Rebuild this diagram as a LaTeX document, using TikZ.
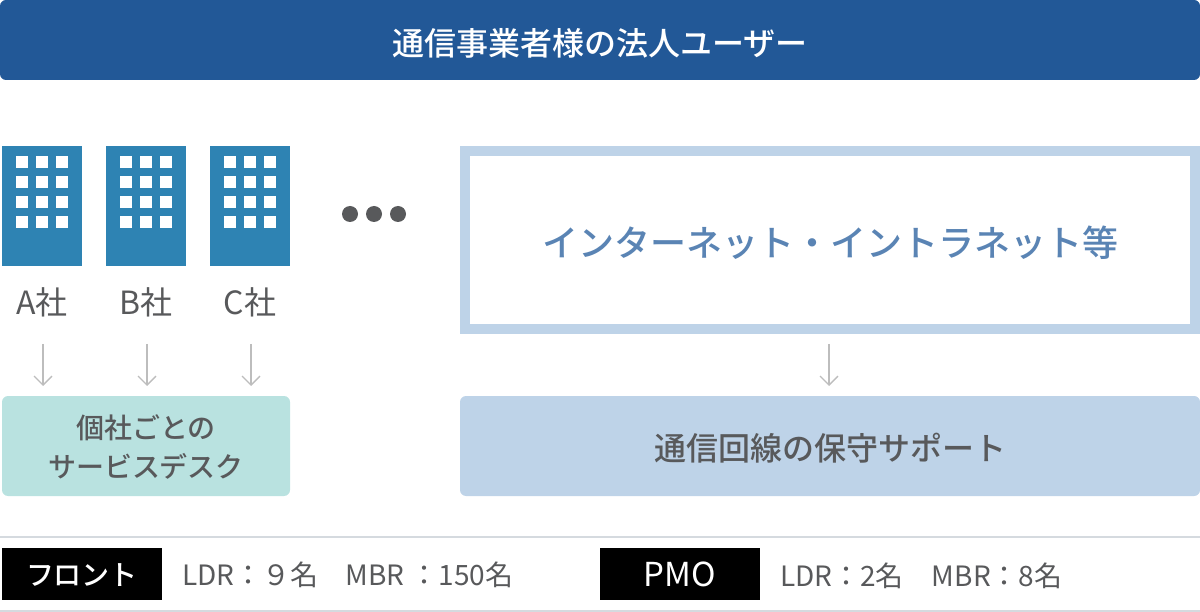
\documentclass[tikz,border=0pt]{standalone}
\usepackage{fontspec}
\setmainfont{Noto Sans CJK JP}
\newfontfamily\medfont{Noto Sans CJK JP Medium}
\usetikzlibrary{arrows.meta}
\definecolor{barblue}{HTML}{225897}
\definecolor{towerblue}{HTML}{2E83B3}
\definecolor{paleblue}{HTML}{BED3E8}
\definecolor{paleteal}{HTML}{B9E2E0}
\definecolor{inkgray}{HTML}{58595B}
\definecolor{netblue}{HTML}{5A84B4}
\definecolor{rulegray}{HTML}{D5DADF}
\definecolor{arrowgray}{HTML}{BDBDBD}
\newcommand{\lowered}[2]{\raisebox{0pt}[\dimexpr\height+#1pt\relax][\dimexpr\depth-#1pt\relax]{#2}}
\tikzset{
  bigbox/.style={inner sep=0pt,rounded corners=6pt},
  company/.style={inkgray,font=\fontsize{32}{32}\selectfont},
  tagbox/.style={fill=black,text=white,inner sep=0pt,minimum width=160,minimum height=52},
  staff/.style={inkgray,anchor=west,inner sep=0pt,font=\fontsize{28}{28}\selectfont},
  downarrow/.style={arrowgray,line width=1.3pt,-{Straight Barb[length=9pt,width=18pt,line width=1.3pt]}},
}
\begin{document}
\begin{tikzpicture}[x=1pt,y=-1pt]
  \useasboundingbox (0,0) rectangle (1200,612);
  % top bar
  \node[bigbox,fill=barblue,text=white,minimum width=1200,minimum height=80,font=\medfont\fontsize{32}{32}\selectfont]
    (users) at (600,40) {\lowered{3}{通信事業者様の法人ユーザー}};
  % company towers
  \foreach \name/\left/\arrowx in {A/2/43,B/106/147,C/210/251} {
    \fill[towerblue] (\left,146) rectangle ++(80,120);
    \foreach \wx in {14,34,54} {
      \foreach \wy in {156,176,196,216} {
        \fill[white] (\left+\wx,\wy) rectangle ++(12,12);
      }
    }
    \node[company] (label\name) at (\left+40,302.5) {\name 社};
    \coordinate (from\name) at (\arrowx,344);
    \coordinate (to\name) at (\arrowx,386);
    \draw[downarrow] (from\name) -- (to\name);
  }
  % dots
  \foreach \dotx in {350,374,398} {
    \fill[inkgray] (\dotx,214) circle (8);
  }
  % internet box
  \node[draw=paleblue,line width=10pt,inner sep=0pt,minimum width=730,minimum height=178,text=netblue,font=\medfont\fontsize{36}{36}\selectfont]
    (net) at (830,240) {\lowered{3}{インターネット・イントラネット等}};
  \coordinate (fromnet) at (829,344);
  \coordinate (tonet) at (829,386);
  \draw[downarrow] (fromnet) -- (tonet);
  % desks
  \node[bigbox,fill=paleteal,text=inkgray,minimum width=288,minimum height=100,align=center,font=\medfont\fontsize{28}{39}\selectfont]
    (desk) at (146,446) {\lowered{1}{個社ごとの}\\\lowered{1}{サービスデスク}};
  \node[bigbox,fill=paleblue,text=inkgray,minimum width=740,minimum height=100,font=\medfont\fontsize{32}{32}\selectfont]
    (line) at (830,446) {\lowered{2}{通信回線の保守サポート}};
  % footer
  \draw[rulegray,line width=2pt] (0,537) -- (1200,537);
  \draw[rulegray,line width=2pt] (0,611) -- (1200,611);
  \node[tagbox,font=\medfont\fontsize{28}{28}\selectfont] (front) at (82,574) {\lowered{1}{フロント}};
  \node[tagbox,font=\fontsize{33}{33}\selectfont] (pmo) at (680,574) {PMO};
  \node[staff] (frontstaff) at (182,575) {LDR：９名\hspace{27pt}MBR ：150名};
  \node[staff] (pmostaff) at (780,576) {LDR：2名\hspace{28pt}MBR：8名};
\end{tikzpicture}
\end{document}
